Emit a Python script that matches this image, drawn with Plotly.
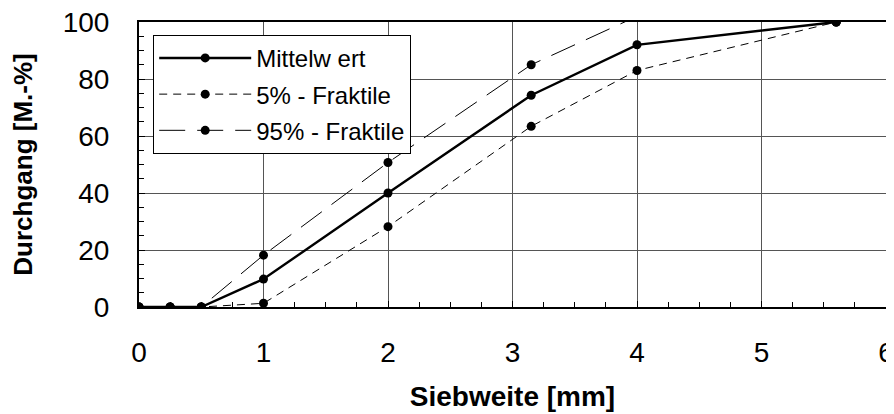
import plotly.graph_objects as go

siebweite = [0, 0.25, 0.5, 1, 2, 3.15, 4, 5.6]
mittelwert = [0, 0, 0, 9.8, 40, 74.3, 92, 100]
fraktile_5 = [0, 0, 0, 1.3, 28.2, 63.4, 83, 100]
fraktile_95 = [0, 0, 0, 18.2, 50.7, 85, 102, 100]

series_names = ["Mittelw ert", "5% - Fraktile", "95% - Fraktile"]

font_family = "Liberation Sans, Arial, sans-serif"

fig = go.Figure()
fig.add_trace(go.Scatter(
    x=siebweite, y=mittelwert, name=series_names[0], mode="lines+markers",
    legendgroup="a",
    line=dict(color="black", width=2.4),
    marker=dict(color="black", size=9)))
fig.add_trace(go.Scatter(
    x=siebweite, y=fraktile_5, name=series_names[1], mode="lines+markers",
    legendgroup="b",
    line=dict(color="black", width=1, dash="8px,6px"),
    marker=dict(color="black", size=9)))
fig.add_trace(go.Scatter(
    x=siebweite, y=fraktile_95, name=series_names[2], mode="lines+markers",
    legendgroup="c",
    line=dict(color="black", width=1, dash="26px,12px"),
    marker=dict(color="black", size=9)))

fig.update_layout(
    width=886, height=406,
    margin=dict(l=131, r=8, t=14, b=107, autoexpand=False),
    paper_bgcolor="white", plot_bgcolor="white",
    font=dict(family=font_family, color="black", size=28),
    showlegend=True,
    legend=dict(x=0.019, y=0.955, xanchor="left", yanchor="top",
                bgcolor="white", bordercolor="black", borderwidth=1,
                font=dict(size=24, family=font_family), tracegroupgap=2,
                itemwidth=92),
)
fig.update_xaxes(
    range=[0, 6], tick0=0, dtick=1, automargin=False,
    showline=True, linecolor="black", linewidth=2, mirror=True,
    showgrid=True, gridcolor="#555555", gridwidth=1,
    ticks="inside", ticklen=6, tickcolor="black",
    minor=dict(dtick=0.25, ticks="inside", ticklen=5, tickcolor="black", showgrid=False),
    ticklabelstandoff=19, ticklabeloverflow="allow", zeroline=False,
    title=dict(text="<b>Siebweite [mm]</b>", font=dict(size=28), standoff=20),
)
fig.update_yaxes(
    range=[0, 100], tick0=0, dtick=20, automargin=False,
    showline=True, linecolor="black", linewidth=2, mirror=True,
    showgrid=True, gridcolor="#555555", gridwidth=1,
    ticks="inside", ticklen=6, tickcolor="black",
    minor=dict(dtick=5, ticks="inside", ticklen=5, tickcolor="black", showgrid=False),
    ticklabelstandoff=22, ticklabeloverflow="allow", zeroline=False,
    title=dict(text="<b>Durchgang [M.-%]</b>", font=dict(size=26), standoff=30),
)

fig.write_html("out.html")
